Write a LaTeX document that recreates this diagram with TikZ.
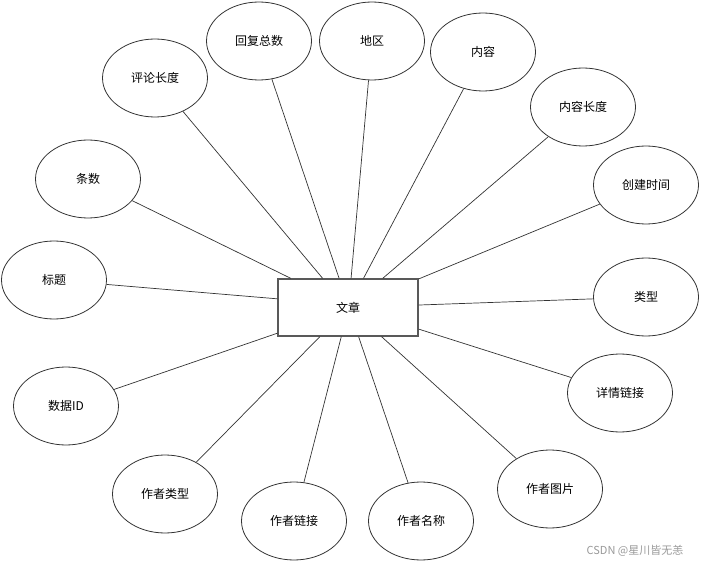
\documentclass[tikz,border=0pt]{standalone}
\usepackage{fontspec}
\setmainfont{Noto Sans CJK SC}
\usetikzlibrary{shapes.geometric}
\begin{document}
\begin{tikzpicture}[x=1pt,y=-1pt,
  attr/.style={ellipse,draw=black!80,line width=0.8pt,minimum width=105pt,minimum height=78pt,inner sep=0pt,font=\fontsize{12}{14}\selectfont},
  ent/.style={rectangle,draw=black!65,line width=1.3pt,minimum width=140pt,minimum height=57pt,inner sep=0pt,font=\fontsize{12}{14}\selectfont},
  link/.style={draw=black!80,line width=0.7pt}]
\useasboundingbox (0,0) rectangle (702,564);
\node[ent] (w) at (348,307.5) {文章};
\node[attr] (a1) at (259,41) {回复总数};
\node[attr] (a2) at (372,41) {地区};
\node[attr] (a3) at (483,52) {内容};
\node[attr] (a4) at (155,78) {评论长度};
\node[attr] (a5) at (583,107) {内容长度};
\node[attr] (a6) at (88,179) {条数};
\node[attr] (a7) at (646,185) {创建时间};
\node[attr] (a8) at (54,280) {标题};
\node[attr] (a9) at (646,297) {类型};
\node[attr] (a10) at (66,406) {数据ID};
\node[attr] (a11) at (620,393) {详情链接};
\node[attr] (a12) at (165,494) {作者类型};
\node[attr] (a13) at (550,489) {作者图片};
\node[attr] (a14) at (294,521) {作者链接};
\node[attr] (a15) at (421,521) {作者名称};
\draw[link] (a6) -- (w.153.8);
\draw[link] (a4) -- (w.131.3);
\draw[link] (a1) -- (w.107.5);
\draw[link] (a2) -- (w.84);
\draw[link] (a3) -- (w.62.2);
\draw[link] (a5) -- (w.40);
\draw[link] (a7) -- (w.22.2);
\draw[link] (a9) -- (w.2.9);
\draw[link] (a11) -- (w.-17.8);
\draw[link] (a13) -- (w.-41.7);
\draw[link] (a15) -- (w.-70.7);
\draw[link] (a14) -- (w.-103.9);
\draw[link] (a12) -- (w.-134.5);
\draw[link] (a8) -- (w.173.9);
\draw[link] (a10) -- (w.-160.7);
\node[text=black!40,font=\fontsize{11}{13}\selectfont] (wm) at (635,551) {CSDN @星川皆无恙};
\end{tikzpicture}
\end{document}
